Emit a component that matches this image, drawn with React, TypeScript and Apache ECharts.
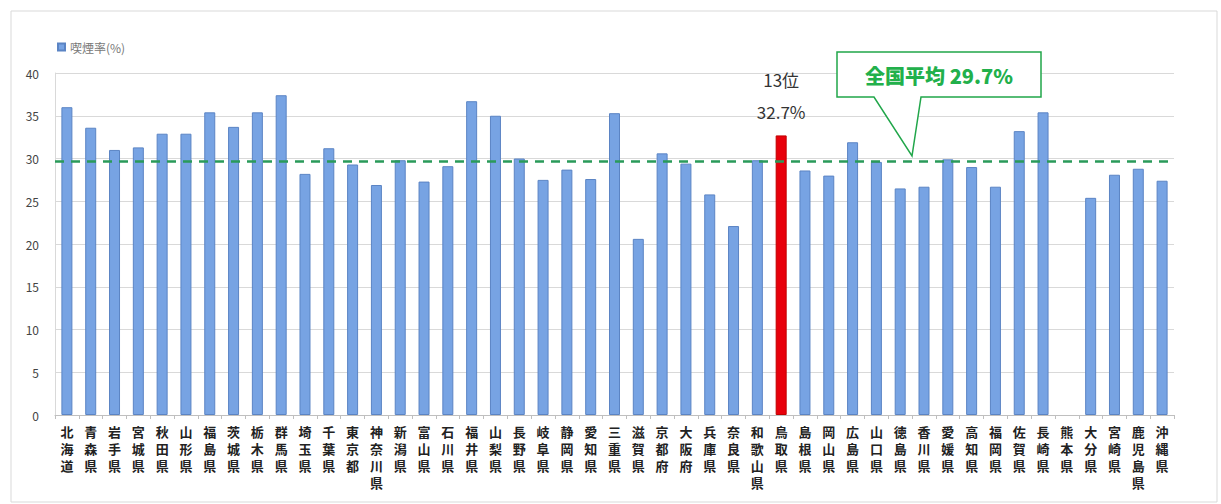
import React, { useEffect, useRef } from "react";
import * as echarts from "echarts";

const prefectures = [
  "北海道", "青森県", "岩手県", "宮城県", "秋田県", "山形県", "福島県", "茨城県", "栃木県", "群馬県",
  "埼玉県", "千葉県", "東京都", "神奈川県", "新潟県", "富山県", "石川県", "福井県", "山梨県", "長野県",
  "岐阜県", "静岡県", "愛知県", "三重県", "滋賀県", "京都府", "大阪府", "兵庫県", "奈良県", "和歌山県",
  "鳥取県", "島根県", "岡山県", "広島県", "山口県", "徳島県", "香川県", "愛媛県", "高知県", "福岡県",
  "佐賀県", "長崎県", "熊本県", "大分県", "宮崎県", "鹿児島県", "沖縄県",
];

const smokingRate: (number | null)[] = [
  36.0, 33.6, 31.0, 31.3, 32.9, 32.9, 35.4, 33.7, 35.4, 37.4,
  28.2, 31.2, 29.3, 26.9, 29.8, 27.3, 29.1, 36.7, 35.0, 30.0,
  27.5, 28.7, 27.6, 35.3, 20.6, 30.6, 29.4, 25.8, 22.1, 29.8,
  32.7, 28.6, 28.0, 31.9, 29.6, 26.5, 26.7, 29.9, 29.0, 26.7,
  33.2, 35.4, null, 25.4, 28.1, 28.8, 27.4,
];

const yTicks = [0, 5, 10, 15, 20, 25, 30, 35, 40];
const nationalAverage = 29.7;
const highlightName = "鳥取県";
const highlightRank = "13位";
const seriesName = "喫煙率(%)";

export default function App() {
  const ref = useRef<HTMLDivElement>(null);

  useEffect(() => {
    document.body.style.margin = "0";
    if (!ref.current) return;
    const chart = echarts.init(ref.current, null, { renderer: "svg" });
    const font = "'Noto Sans CJK JP', 'Noto Sans', sans-serif";
    const data = smokingRate.map((v, i) => {
      if (v === null) return "-";
      if (prefectures[i] === highlightName) {
        return {
          value: v,
          itemStyle: { color: "#e8000b", borderColor: "#c00000", borderWidth: 1 },
          label: {
            show: true,
            position: "top",
            distance: 8,
            formatter: `${highlightRank}\n${v.toFixed(1)}%`,
            fontSize: 17,
            lineHeight: 32,
            color: "#333",
            fontFamily: font,
          },
        };
      }
      return v;
    });

    chart.setOption({
      animation: false,
      backgroundColor: "#fff",
      textStyle: { fontFamily: font },
      legend: {
        show: true,
        left: 52,
        top: 36,
        itemWidth: 7,
        itemHeight: 7,
        itemGap: 4,
        icon: "rect",
        textStyle: { fontSize: 12, color: "#777", fontFamily: font },
        data: [seriesName],
      },
      grid: { left: 55, right: 47, top: 73, bottom: 89, containLabel: false },
      xAxis: {
        type: "category",
        data: prefectures,
        axisLine: { show: true, lineStyle: { color: "#bfbfbf" } },
        axisTick: { show: true, alignWithLabel: false, length: 4, lineStyle: { color: "#bfbfbf" } },
        axisLabel: {
          interval: 0,
          margin: 8,
          fontSize: 13,
          lineHeight: 17,
          color: "#222",
          fontWeight: "bold",
          verticalAlign: "top",
          formatter: (s: string) => s.split("").join("\n"),
        },
      },
      yAxis: {
        type: "value",
        min: 0,
        max: yTicks[yTicks.length - 1],
        interval: yTicks[1] - yTicks[0],
        axisLine: { show: true, lineStyle: { color: "#d9d9d9" } },
        axisTick: { show: false },
        axisLabel: { fontSize: 12, color: "#444", margin: 16 },
        splitLine: { lineStyle: { color: "#d9d9d9", width: 1 } },
      },
      series: [
        {
          name: seriesName,
          type: "bar",
          data,
          barWidth: 11,
          itemStyle: { color: "#77a3e3", borderColor: "#5b84c4", borderWidth: 1 },
          markLine: {
            silent: true,
            symbol: "none",
            label: { show: false },
            lineStyle: { color: "#2a9a5a", type: [9, 7], width: 2.5 },
            data: [{ yAxis: nationalAverage }],
          },
        },
      ],
      graphic: [
        {
          type: "rect",
          shape: { x: 11, y: 11, width: 1206, height: 491 },
          style: { fill: "none", stroke: "#d9d9d9", lineWidth: 1 },
          silent: true,
        },
        {
          type: "polygon",
          shape: { points: [[837, 52], [1041, 52], [1041, 97], [921, 97], [912, 156], [874, 97], [837, 97]] },
          style: { fill: "#fff", stroke: "#21a64a", lineWidth: 1.5 },
          z: 100,
        },
        {
          type: "text",
          x: 939,
          y: 75,
          style: {
            text: `全国平均 ${nationalAverage}%`,
            fill: "#22b04b",
            font: `900 20px ${font}`,
            align: "center",
            verticalAlign: "middle",
          },
          z: 101,
        },
      ],
    });
    return () => chart.dispose();
  }, []);

  return <div ref={ref} style={{ width: 1221, height: 504 }} />;
}
